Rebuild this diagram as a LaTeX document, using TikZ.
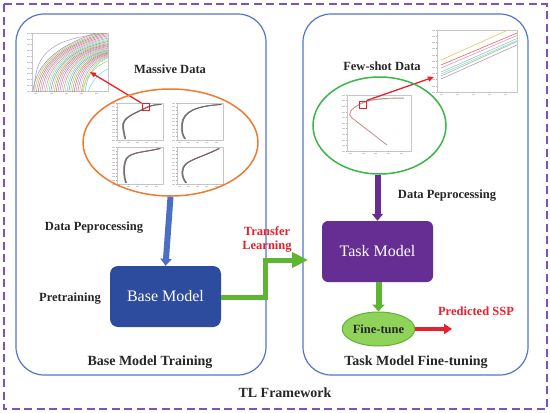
\documentclass[tikz,border=0pt]{standalone}
\usepackage{fontspec}
\setmainfont{Liberation Serif}
\usetikzlibrary{arrows.meta,shapes.geometric}
\definecolor{fpurple}{HTML}{8050C0}
\definecolor{cblue}{HTML}{5275CB}
\definecolor{eorange}{HTML}{EE7B30}
\definecolor{egreen}{HTML}{3DB549}
\definecolor{baseblue}{HTML}{2E4C9D}
\definecolor{taskpurple}{HTML}{662E93}
\definecolor{agreen}{HTML}{5DB531}
\definecolor{ftgreen}{HTML}{8FD35A}
\definecolor{ared}{HTML}{E8202A}
\definecolor{ablue}{HTML}{4A6FC4}
\definecolor{pa}{HTML}{1F77B4}
\definecolor{pb}{HTML}{FF7F0E}
\definecolor{pc}{HTML}{2CA02C}
\definecolor{pd}{HTML}{D62728}
\definecolor{pe}{HTML}{9467BD}
\definecolor{pf}{HTML}{8C564B}
\definecolor{pg}{HTML}{E377C2}
\definecolor{ph}{HTML}{7F7F7F}
\definecolor{pi}{HTML}{BCBD22}
\definecolor{pj}{HTML}{17BECF}
\definecolor{sspc}{HTML}{B0574A}
\newcommand\myplotframe[4]{%
  \draw[gray!45,line width=0.4pt] (#1,#2) rectangle (#3,#4);
  \foreach \t in {0,0.1,...,1.01}{
    \draw[gray!60,line width=0.3pt] (#1,{#2+(#4-#2)*\t}) -- ++(-1.2,0);
    \draw[gray!40,line width=0.5pt] ({#1-2.2},{#2+(#4-#2)*\t}) -- ++(-2.5,0);}
  \foreach \t in {0.05,0.25,...,1.0}{
    \draw[gray!60,line width=0.3pt] ({#1+(#3-#1)*\t},#4) -- ++(0,1.2);
    \draw[gray!40,line width=0.5pt] ({#1+(#3-#1)*\t-1.5},{#4+2.5}) -- ++(3,0);}
}
\tikzset{
  lbl/.style={font=\bfseries\fontsize{12.5}{14}\selectfont, text=black!85, inner sep=0pt},
  ttl/.style={font=\bfseries\fontsize{14}{16}\selectfont, text=black!85, inner sep=0pt},
  redlbl/.style={font=\bfseries\fontsize{12.5}{15}\selectfont, text=ared, inner sep=0pt, align=center},
  model/.style={rectangle, rounded corners=8pt, minimum width=111pt, minimum height=61pt,
    text=white, font=\fontsize{16}{18}\selectfont, inner sep=0pt},
  container/.style={draw=cblue, line width=1.2pt, rounded corners=28pt},
  redsq/.style={draw=ared, line width=0.9pt, minimum size=7pt, inner sep=0pt},
  thinred/.style={draw=ared, line width=1.3pt, -{Triangle[length=6pt,width=5pt]}},
}
\begin{document}
\begin{tikzpicture}[x=1pt,y=-1pt]
\useasboundingbox (0,0) rectangle (550,413);
\fill[white] (0,0) rectangle (550,413);
% outer framework
\draw[draw=fpurple, line width=2pt, dash pattern=on 8pt off 4.5pt] (4,4) rectangle (546.5,409);
% containers
\draw[container] (16,14) rectangle (266,375);
\draw[container] (303,14) rectangle (528,375);

% ---- left: big plot of massive data
\myplotframe{32}{33}{108}{91}
\begin{scope}
\clip (32,33) rectangle (108,91);
\foreach \c [count=\k] in {pa,pb,pc,pd,pe,pf,pg,ph,pi,pj,pa,pb,pc,pd,pe,pf,pg,ph,pi,pj,pa,pb,pc,pd,pe,pf,pg,ph,pi,pj}{
  \draw[color=\c, line width=0.5pt, opacity=0.7]
    ({31+1.8*\k},92) .. controls ({34+1.8*\k},68) and ({48+1.8*\k},48) .. ({100+1.5*\k},{30+0.9*\k});
}
\draw[pe!70, line width=0.5pt] (34,92) .. controls (35,58) and (45,40) .. (100,34);
\draw[pi!80, line width=0.5pt] (82,92) .. controls (85,76) and (95,66) .. (110,60);
\draw[pj!60, line width=0.5pt] (88,92) .. controls (92,80) and (100,72) .. (110,68);
\end{scope}

% ---- four SSP plots
\myplotframe{117}{103}{163}{140}
\myplotframe{177}{103}{223}{140}
\myplotframe{117}{147}{163}{184}
\myplotframe{177}{147}{223}{184}
\foreach \c/\d in {sspc/0, pa/0.6, ph/-0.5, pf/0.3}{
  \draw[\c, line width=0.8pt, opacity=0.75, xshift=\d pt] (161,104.5) .. controls (150,104.5) and (146,108) .. (135,113) .. controls (125,118) and (122,122) .. (123,128) -- (125,139);
  \draw[\c, line width=0.8pt, opacity=0.75, xshift=\d pt] (221,104.5) .. controls (195,106) and (183,112) .. (182,124) .. controls (181,132) and (183,136) .. (185,139);
  \draw[\c, line width=0.8pt, opacity=0.75, xshift=\d pt] (160,148.5) .. controls (140,153) and (127,152) .. (125,162) .. controls (123,170) and (124,178) .. (126,183);
  \draw[\c, line width=0.8pt, opacity=0.75, xshift=\d pt] (219,148.5) .. controls (200,158) and (186,160) .. (183,168) .. controls (181,174) and (183,179) .. (186,183);
}
\node[redsq] (sqA) at (145.5,107) {};
\coordinate (tipA) at (90,72);
\draw[thinred] (sqA.north west) -- (tipA);

% orange ellipse
\node[ellipse, draw=eorange, line width=1.5pt, minimum width=175pt, minimum height=107pt, inner sep=0pt] (ellA) at (170.5,142.5) {};

% labels left
\node[lbl] (massive) at (170,69) {Massive Data};
\node[lbl] (dpl) at (94,228) {Data Peprocessing};
\node[lbl] (pre) at (70,299) {Pretraining};
\node[ttl] (bmt) at (150,362) {Base Model Training};

% base model
\node[model, fill=baseblue] (base) at (165.5,296.5) {Base Model};
\draw[ablue, line width=6pt, -{Triangle[length=7pt,width=11pt]}] (ellA.south) -- (base.north);

% ---- right side
\myplotframe{437}{30}{517}{92}
\begin{scope}
\clip (437,30) rectangle (517,92);
\draw[pi!40!orange!60, line width=0.6pt] (441,60) -- (517,26);
\draw[pd!70, line width=0.6pt] (441,65) -- (517,33);
\draw[pg!60!pd!60, line width=0.6pt] (441,68) -- (517,35.5);
\draw[pa!45, line width=0.6pt] (441,72) -- (517,38.5);
\draw[pj!50, line width=0.6pt] (441,74) -- (517,40.5);
\draw[pc!50!pi!70, line width=0.6pt] (441,76) -- (517,41.5);
\draw[pe!70, line width=0.6pt] (441,79) -- (517,45);
\end{scope}

\myplotframe{347}{95}{411}{151}
\draw[sspc!70, line width=0.8pt] (404,98) .. controls (385,98) and (370,99) .. (362,103) .. controls (350,109) and (347,114) .. (352,118) -- (387,145);
\draw[ph!70, line width=0.5pt, opacity=0.7] (404,98.6) .. controls (385,98.6) and (370,99.6) .. (362,103.6);
\node[redsq] (sqB) at (362.5,104.5) {};
\coordinate (tipB) at (434,77);
\draw[thinred] (sqB.north east) -- (tipB);

\node[ellipse, draw=egreen, line width=1.5pt, minimum width=133pt, minimum height=97pt, inner sep=0pt] (ellB) at (379.5,125.5) {};

\node[lbl] (fewshot) at (382,66) {Few-shot Data};
\node[lbl] (dpr) at (447,196) {Data Peprocessing};
\node[ttl] (tmf) at (416,362) {Task Model Fine-tuning};

\node[model, fill=taskpurple, rounded corners=6pt] (task) at (377.5,251.5) {Task Model};
\draw[taskpurple, line width=6pt, -{Triangle[length=7pt,width=11pt]}] (ellB.south -| task.north) -- (task.north);

\node[ellipse, draw=agreen, line width=1pt, fill=ftgreen, minimum width=72pt, minimum height=34pt, inner sep=0pt, font=\bfseries\fontsize{12.5}{14}\selectfont, text=black!85] (ftune) at (378.5,329) {Fine-tune};
\draw[agreen, line width=6pt, -{Triangle[length=7pt,width=12pt]}] (task.south -| ftune.north) -- (ftune.north);

\coordinate (predtip) at (452,329);
\draw[ared, line width=4.5pt, -{Triangle[length=8pt,width=10pt]}] (ftune.east) -- (predtip);
\node[redlbl] (pred) at (476,311) {Predicted SSP};

% transfer learning
\coordinate (bend) at (265.5,297);
\coordinate (tipT) at (308,260);
\draw[agreen, line width=5pt, -{Triangle[length=16pt,width=15pt]}] (base.east |- bend) -- (bend) |- (tipT);
\node[redlbl] (trans) at (267,239.5) {Transfer\\[-1pt]Learning};

\node[ttl] (tl) at (285,393) {TL Framework};
\end{tikzpicture}
\end{document}
